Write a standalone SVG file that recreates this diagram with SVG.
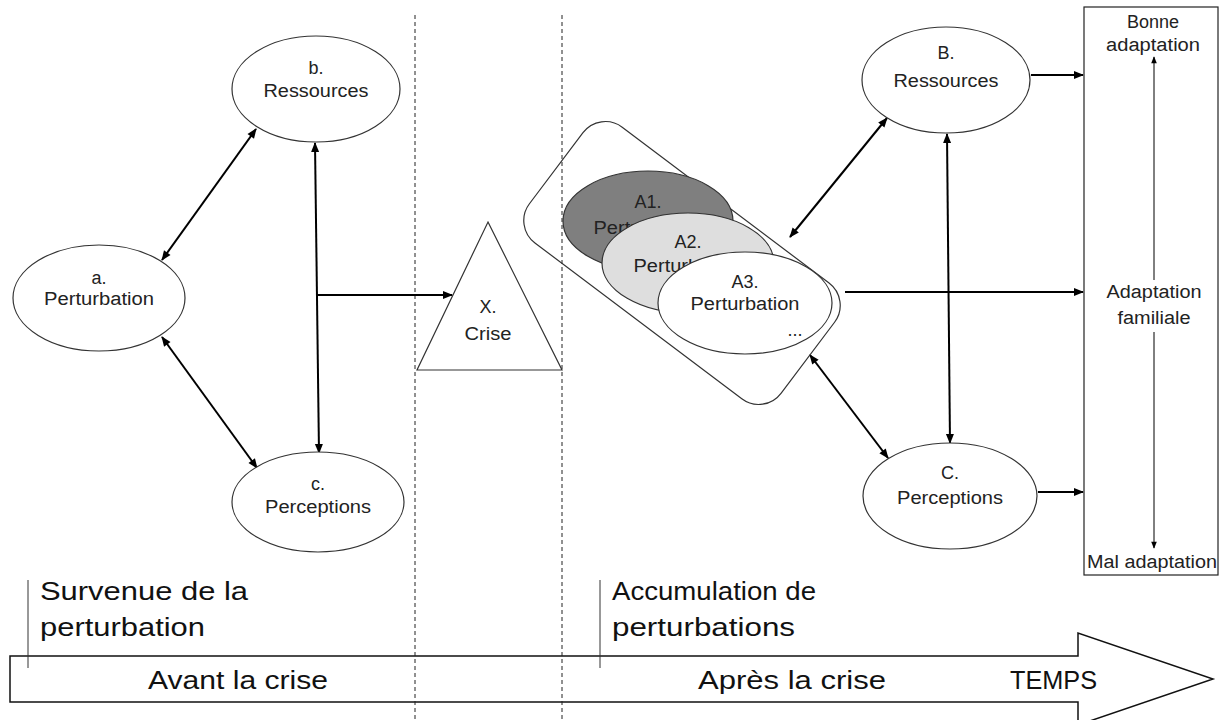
<svg xmlns="http://www.w3.org/2000/svg" width="1221" height="720" viewBox="0 0 1221 720">
<style>
.nd{fill:#fff;stroke:#333;stroke-width:1.2}
.t{font-family:"Liberation Sans",Arial,sans-serif;font-size:18px;fill:#222;text-anchor:middle}
.tl{font-family:"Liberation Sans",Arial,sans-serif;font-size:26px;fill:#111}
.dash{stroke:#222;stroke-width:1;stroke-dasharray:4,3;fill:none}
.c{stroke:#000;stroke-width:2;fill:none}
.cs{stroke:#000;stroke-width:1;fill:none}
</style>
<defs>
<marker id="ah" viewBox="0 0 10 10" refX="9" refY="5" markerWidth="11" markerHeight="10" markerUnits="userSpaceOnUse" orient="auto-start-reverse"><path d="M0,1 L10,5 L0,9 z" fill="#000"/></marker>
<marker id="ahs" viewBox="0 0 10 10" refX="9" refY="5" markerWidth="8" markerHeight="7" markerUnits="userSpaceOnUse" orient="auto-start-reverse"><path d="M0,1 L10,5 L0,9 z" fill="#000"/></marker>
</defs>
<rect width="1221" height="720" fill="#fff"/>

<g id="timeline">
<path d="M10,656 L1078,656 L1078,633 L1213,679 L1078,725 L1078,702 L10,702 Z" fill="#fff" stroke="#111" stroke-width="1.5"/>
<line x1="28" y1="580" x2="28" y2="668" stroke="#333" stroke-width="1"/>
<line x1="600" y1="580" x2="600" y2="668" stroke="#333" stroke-width="1"/>
<text class="tl" x="40" y="600" textLength="208" lengthAdjust="spacingAndGlyphs">Survenue de la</text>
<text class="tl" x="40" y="636" textLength="165" lengthAdjust="spacingAndGlyphs">perturbation</text>
<text class="tl" x="612" y="600" textLength="204" lengthAdjust="spacingAndGlyphs">Accumulation de</text>
<text class="tl" x="612" y="636" textLength="183" lengthAdjust="spacingAndGlyphs">perturbations</text>
<text class="tl" x="148" y="689" textLength="180" lengthAdjust="spacingAndGlyphs">Avant la crise</text>
<text class="tl" x="698" y="689" textLength="188" lengthAdjust="spacingAndGlyphs">Après la crise</text>
<text class="tl" x="1010" y="689" textLength="87" lengthAdjust="spacingAndGlyphs">TEMPS</text>
</g>

<g id="separators">
<line class="dash" x1="415" y1="15" x2="415" y2="720"/>
<line class="dash" x1="562" y1="15" x2="562" y2="720"/>
</g>

<g id="connectors">
<line class="c" x1="162" y1="260" x2="256" y2="129" marker-start="url(#ah)" marker-end="url(#ah)"/>
<line class="c" x1="162" y1="337" x2="257" y2="468" marker-start="url(#ah)" marker-end="url(#ah)"/>
<line class="c" x1="315" y1="143" x2="319" y2="453" marker-start="url(#ah)" marker-end="url(#ah)"/>
<line class="c" x1="316" y1="295" x2="452" y2="295" marker-end="url(#ah)"/>
<line class="c" x1="790" y1="237" x2="887" y2="118" marker-start="url(#ah)" marker-end="url(#ah)"/>
<line class="c" x1="810" y1="355" x2="888" y2="458" marker-start="url(#ah)" marker-end="url(#ah)"/>
<line class="c" x1="947" y1="134" x2="950" y2="443" marker-start="url(#ah)" marker-end="url(#ah)"/>
<line class="c" x1="1031" y1="75" x2="1083" y2="75" marker-end="url(#ah)"/>
<line class="c" x1="845" y1="292" x2="1083" y2="292" marker-end="url(#ah)"/>
<line class="c" x1="1038" y1="492" x2="1083" y2="492" marker-end="url(#ah)"/>
</g>

<g id="node-a">
<ellipse class="nd" cx="99" cy="298" rx="86" ry="53"/>
<text class="t" x="99" y="284">a.</text>
<text class="t" x="99" y="305" textLength="110" lengthAdjust="spacingAndGlyphs">Perturbation</text>
</g>
<g id="node-b">
<ellipse class="nd" cx="316" cy="89" rx="84" ry="53"/>
<text class="t" x="316" y="74">b.</text>
<text class="t" x="316" y="97" textLength="105" lengthAdjust="spacingAndGlyphs">Ressources</text>
</g>
<g id="node-c">
<ellipse class="nd" cx="318" cy="502" rx="86" ry="50"/>
<text class="t" x="318" y="490">c.</text>
<text class="t" x="318" y="513" textLength="106" lengthAdjust="spacingAndGlyphs">Perceptions</text>
</g>
<g id="node-x">
<polygon class="nd" points="488,222 562,370 417,370"/>
<text class="t" x="488" y="313">X.</text>
<text class="t" x="488" y="340" textLength="47" lengthAdjust="spacingAndGlyphs">Crise</text>
</g>

<g id="node-a-group">
<rect x="-157.5" y="-72.5" width="315" height="145" rx="28" transform="translate(682,263) rotate(37)" fill="none" stroke="#333" stroke-width="1.2"/>
<g id="node-a1">
<ellipse cx="648" cy="221" rx="85" ry="50" fill="#7f7f7f" stroke="#333" stroke-width="1.2"/>
<text class="t" x="648" y="208">A1.</text>
<text class="t" x="648" y="234" textLength="109" lengthAdjust="spacingAndGlyphs">Perturbation</text>
</g>
<g id="node-a2">
<ellipse cx="688" cy="263" rx="86" ry="50" fill="#dedede" stroke="#333" stroke-width="1.2"/>
<text class="t" x="688" y="248">A2.</text>
<text class="t" x="688" y="272" textLength="109" lengthAdjust="spacingAndGlyphs">Perturbation</text>
</g>
<g id="node-a3">
<ellipse class="nd" cx="745" cy="303" rx="87" ry="51"/>
<text class="t" x="745" y="288">A3.</text>
<text class="t" x="745" y="310" textLength="109" lengthAdjust="spacingAndGlyphs">Perturbation</text>
<text class="t" x="795" y="336" font-size="12" fill="#555">...</text>
</g>
</g>

<g id="node-B">
<ellipse class="nd" cx="946" cy="80" rx="84" ry="53"/>
<text class="t" x="946" y="59">B.</text>
<text class="t" x="946" y="87" textLength="105" lengthAdjust="spacingAndGlyphs">Ressources</text>
</g>
<g id="node-C">
<ellipse class="nd" cx="950" cy="496" rx="87" ry="53"/>
<text class="t" x="950" y="479">C.</text>
<text class="t" x="950" y="504" textLength="106" lengthAdjust="spacingAndGlyphs">Perceptions</text>
</g>

<g id="node-outcome">
<rect x="1084" y="7" width="134" height="568" fill="#fff" stroke="#222" stroke-width="1.2"/>
<text class="t" x="1153" y="28">Bonne</text>
<text class="t" x="1153" y="51" textLength="94" lengthAdjust="spacingAndGlyphs">adaptation</text>
<text class="t" x="1154" y="298" textLength="95" lengthAdjust="spacingAndGlyphs">Adaptation</text>
<text class="t" x="1154" y="324" textLength="73" lengthAdjust="spacingAndGlyphs">familiale</text>
<text class="t" x="1152" y="568" textLength="130" lengthAdjust="spacingAndGlyphs">Mal adaptation</text>
<line class="cs" x1="1154" y1="280" x2="1154" y2="57" marker-end="url(#ahs)"/>
<line class="cs" x1="1154" y1="332" x2="1154" y2="548" marker-end="url(#ahs)"/>
</g>
</svg>
